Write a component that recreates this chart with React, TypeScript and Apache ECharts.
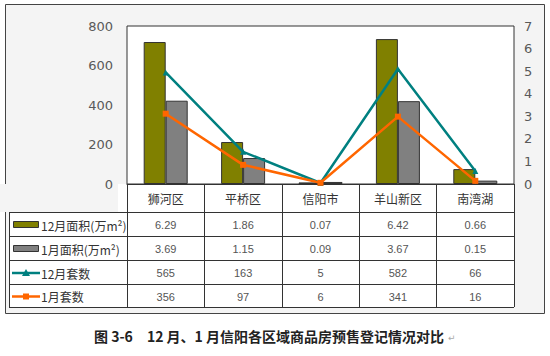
import React, { useEffect, useRef } from "react";
import * as echarts from "echarts";

const categories = ["狮河区", "平桥区", "信阳市", "羊山新区", "南湾湖"];
const area12 = [6.29, 1.86, 0.07, 6.42, 0.66];
const area1 = [3.69, 1.15, 0.09, 3.67, 0.15];
const units12 = [565, 163, 5, 582, 66];
const units1 = [356, 97, 6, 341, 16];
const seriesNames = ["12月面积(万m²)", "1月面积(万m²)", "12月套数", "1月套数"];
const leftTicks = { min: 0, max: 800, interval: 200 };
const rightTicks = { min: 0, max: 7, interval: 1 };
const caption = "图 3-6　12 月、1 月信阳各区域商品房预售登记情况对比";

const OLIVE = "#808000";
const GRAY = "#808080";
const TEAL = "#008080";
const ORANGE = "#FF6600";
const BORDER = "#333333";

export default function App() {
  const ref = useRef<HTMLDivElement>(null);
  useEffect(() => {
    document.body.style.margin = "0";
    const chart = echarts.init(ref.current!, null, { renderer: "svg" });
    const gridLeft = 127;
    const gridRight = 514;
    const gridTop = 26;
    const gridBottom = 184;
    chart.setOption({
      animation: false,
      backgroundColor: "#ffffff",
      grid: {
        left: gridLeft,
        top: gridTop,
        width: gridRight - gridLeft,
        height: gridBottom - gridTop,
        show: true,
        backgroundColor: "#ffffff",
        borderColor: BORDER,
        borderWidth: 1,
        z: 1,
      },
      xAxis: {
        type: "category",
        data: categories,
        boundaryGap: true,
        axisLine: { show: true, lineStyle: { color: BORDER, width: 1 } },
        axisTick: { show: true, length: 123, lineStyle: { color: BORDER, width: 1 } },
        axisLabel: { color: "#333", fontSize: 12, margin: 8, fontFamily: "Noto Sans CJK SC" },
        splitLine: { show: false },
      },
      yAxis: [
        {
          type: "value",
          ...leftTicks,
          position: "left",
          axisLine: { show: false },
          axisTick: { show: false },
          splitLine: { show: false },
          axisLabel: { color: "#595959", fontSize: 13, margin: 14, fontFamily: "DejaVu Sans" },
        },
        {
          type: "value",
          ...rightTicks,
          position: "right",
          axisLine: { show: false },
          axisTick: { show: true, inside: true, length: 4, lineStyle: { color: "#595959" } },
          splitLine: { show: false },
          axisLabel: { color: "#595959", fontSize: 13, margin: 10, fontFamily: "DejaVu Sans" },
        },
      ],
      series: [
        {
          name: seriesNames[0],
          type: "bar",
          yAxisIndex: 1,
          data: area12,
          barWidth: 22,
          barGap: "0%",
          itemStyle: { color: OLIVE, borderColor: BORDER, borderWidth: 1 },
          z: 2,
        },
        {
          name: seriesNames[1],
          type: "bar",
          yAxisIndex: 1,
          data: area1,
          barWidth: 22,
          barGap: "0%",
          itemStyle: { color: GRAY, borderColor: BORDER, borderWidth: 1 },
          z: 2,
        },
        {
          name: seriesNames[2],
          type: "line",
          yAxisIndex: 0,
          data: units12,
          symbol: "triangle",
          symbolSize: 6,
          lineStyle: { color: TEAL, width: 2.5 },
          itemStyle: { color: TEAL },
          z: 4,
        },
        {
          name: seriesNames[3],
          type: "line",
          yAxisIndex: 0,
          data: units1,
          symbol: "rect",
          symbolSize: 6,
          lineStyle: { color: ORANGE, width: 2.5 },
          itemStyle: { color: ORANGE },
          z: 5,
        },
      ],
    });

    const rowLines = [212, 236, 260, 284, 307];
    const tableLeft = 9;
    const rows = [area12, area1, units12, units1];
    const graphic: any[] = [];
    graphic.push({
      type: "rect",
      shape: { x: 5.5, y: 4.5, width: 539, height: 309 },
      style: { fill: "#f4f4f4", stroke: "#444", lineWidth: 1 },
      z: -10,
      silent: true,
    });
    graphic.push({
      type: "rect",
      shape: { x: tableLeft, y: gridBottom, width: gridRight - tableLeft, height: 307 - gridBottom },
      style: { fill: "#ffffff" },
      z: -9,
      silent: true,
    });
    graphic.push({
      type: "rect",
      shape: { x: 0, y: gridBottom, width: gridLeft - tableLeft, height: rowLines[0] - gridBottom },
      style: { fill: "#f4f4f4" },
      z: -8,
      silent: true,
    });
    rowLines.forEach((y) => {
      graphic.push({
        type: "line",
        shape: { x1: tableLeft, y1: y + 0.5, x2: gridRight, y2: y + 0.5 },
        style: { stroke: BORDER, lineWidth: 1 },
        z: 10,
      });
    });
    graphic.push({
      type: "line",
      shape: { x1: tableLeft + 0.5, y1: rowLines[0], x2: tableLeft + 0.5, y2: rowLines[4] + 0.5 },
      style: { stroke: BORDER, lineWidth: 1 },
      z: 10,
    });
    rows.forEach((vals, r) => {
      const cy = (rowLines[r] + rowLines[r + 1]) / 2 + 1;
      vals.forEach((v, i) => {
        const px = chart.convertToPixel({ xAxisIndex: 0 }, i) as number;
        graphic.push({
          type: "text",
          x: px,
          y: cy,
          style: {
            text: String(v),
            fill: "#555",
            fontSize: 11,
            fontFamily: "Liberation Sans",
            align: "center",
            verticalAlign: "middle",
          },
          z: 10,
        });
      });
      if (r < 2) {
        graphic.push({
          type: "rect",
          shape: { x: 13.5, y: cy - 3.5, width: 25, height: 6 },
          style: { fill: r === 0 ? OLIVE : GRAY, stroke: BORDER, lineWidth: 1 },
          z: 10,
        });
      } else {
        const c = r === 2 ? TEAL : ORANGE;
        graphic.push({
          type: "line",
          shape: { x1: 12, y1: cy, x2: 40, y2: cy },
          style: { stroke: c, lineWidth: 2.5 },
          z: 10,
        });
        if (r === 2) {
          graphic.push({
            type: "polygon",
            shape: { points: [[26, cy - 4], [30, cy + 3], [22, cy + 3]] },
            style: { fill: c },
            z: 11,
          });
        } else {
          graphic.push({
            type: "rect",
            shape: { x: 23, y: cy - 3, width: 6, height: 6 },
            style: { fill: c },
            z: 11,
          });
        }
      }
      graphic.push({
        type: "text",
        x: 41,
        y: cy,
        style: {
          text: seriesNames[r],
          fill: "#333",
          fontSize: 12,
          fontFamily: "Noto Sans CJK SC",
          align: "left",
          verticalAlign: "middle",
        },
        z: 10,
      });
    });
    graphic.push({
      type: "text",
      x: 269,
      y: 336,
      style: {
        text: caption,
        fill: "#222",
        fontSize: 14,
        fontWeight: "bold",
        fontFamily: "Noto Sans CJK SC",
        align: "center",
        verticalAlign: "middle",
      },
    });
    graphic.push({
      type: "text",
      x: 448,
      y: 338,
      style: {
        text: "↵",
        fill: "#aaa",
        fontSize: 9,
        fontFamily: "DejaVu Sans",
        align: "left",
        verticalAlign: "middle",
      },
    });
    chart.setOption({ graphic });
    return () => chart.dispose();
  }, []);
  return (
    <div
      ref={ref}
      style={{ position: "fixed", left: 0, top: 0, width: 550, height: 356 }}
    />
  );
}
